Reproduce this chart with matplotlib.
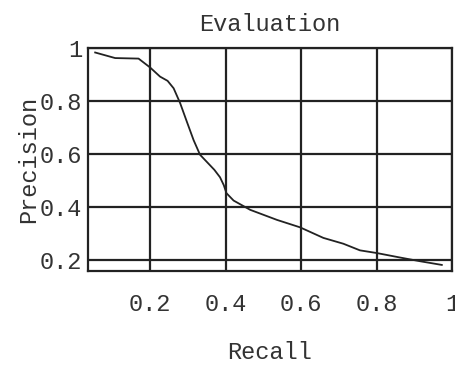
import matplotlib
matplotlib.use("Agg")
import matplotlib.pyplot as plt

# Precision/recall curve
recall = [0.054, 0.107, 0.169, 0.200, 0.226, 0.246, 0.262, 0.279, 0.297, 0.315,
          0.332, 0.350, 0.370, 0.385, 0.395, 0.402, 0.421, 0.465, 0.536, 0.597,
          0.659, 0.712, 0.756, 0.800, 0.862, 0.915, 0.973]
precision = [0.983, 0.962, 0.960, 0.926, 0.892, 0.876, 0.848, 0.793, 0.722, 0.652,
             0.597, 0.570, 0.540, 0.512, 0.482, 0.452, 0.424, 0.389, 0.351, 0.323,
             0.283, 0.261, 0.236, 0.226, 0.209, 0.195, 0.181]

xticks = [0.2, 0.4, 0.6, 0.8, 1.0]
xtick_labels = ["0.2", "0.4", "0.6", "0.8", "1"]
yticks = [0.2, 0.4, 0.6, 0.8, 1.0]
ytick_labels = ["0.2", "0.4", "0.6", "0.8", "1"]

plt.rcParams['font.family'] = ['Liberation Mono', 'DejaVu Sans Mono']
ink = '#222222'
txt = '#333333'

fig = plt.figure(figsize=(4.55, 3.65), dpi=100)
ax = fig.add_axes([0.1934, 0.2575, 0.80, 0.611])

ax.plot(recall, precision, color=ink, lw=1.3)

ax.set_xlim(0.035, 1.0)
ax.set_ylim(0.158, 1.0)
ax.set_xticks(xticks)
ax.set_xticklabels(xtick_labels)
ax.set_yticks(yticks)
ax.set_yticklabels(ytick_labels)
ax.tick_params(length=0, labelsize=17, colors=txt)
ax.tick_params(axis='x', pad=16)
ax.tick_params(axis='y', pad=4)
ax.grid(True, color=ink, lw=1.6)
for s in ax.spines.values():
    s.set_color(ink)
    s.set_linewidth(1.6)

ax.set_title("Evaluation", fontsize=17, color=txt, pad=12)
ax.set_xlabel("Recall", fontsize=17, color=txt, labelpad=18)
ax.set_ylabel("Precision", fontsize=17, color=txt, labelpad=0)

fig.savefig("out.png", dpi=100)
